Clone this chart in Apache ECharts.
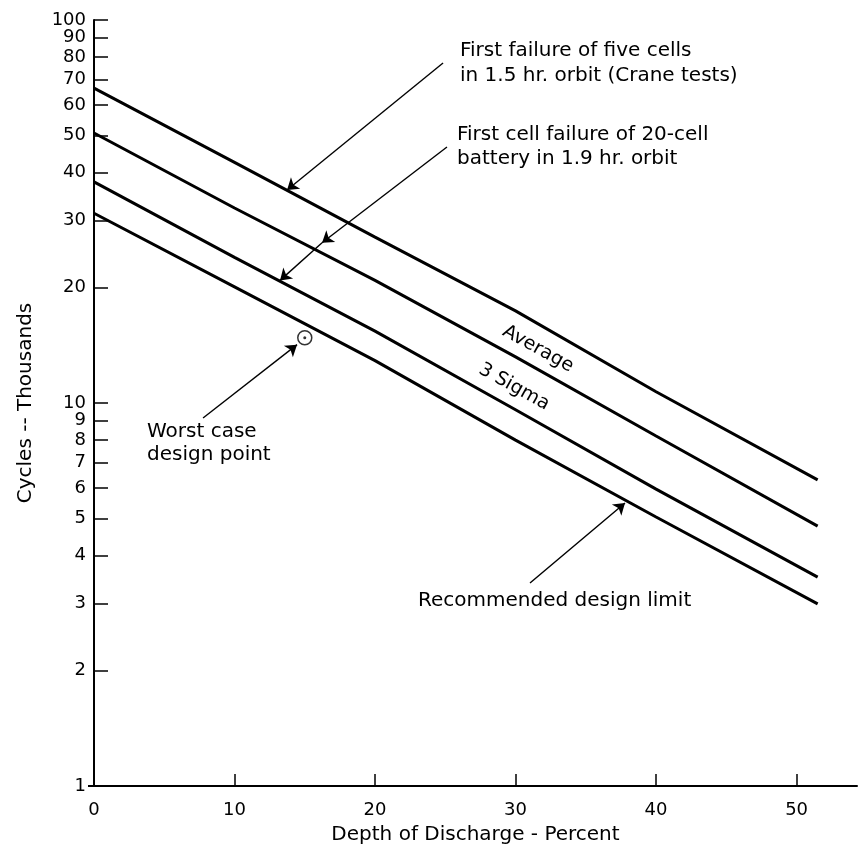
<!DOCTYPE html>
<html>
<head>
<meta charset="utf-8">
<script src="https://cdn.jsdelivr.net/npm/echarts@6/dist/echarts.min.js"></script>
<style>html,body{margin:0;padding:0;background:#fff}#c{width:859px;height:850px}</style>
</head>
<body>
<div id="c"></div>
<script>
// ---- data ----
const depthPercent = [0, 10, 20, 30, 40, 51.5];
const craneFirstFiveFail = [66.4, 42.5, 27.1, 17.4, 10.7, 6.3];
const averageCycles = [50.7, 32.3, 20.9, 13.2, 8.2, 4.77];
const threeSigmaCycles = [37.8, 24.0, 15.4, 9.6, 5.96, 3.51];
const designLimitCycles = [31.3, 20.1, 12.9, 8.0, 5.04, 2.99];
const worstCasePoint = [15, 14.8];
const xTicks = [0, 10, 20, 30, 40, 50];
const yTicks = [1, 2, 3, 4, 5, 6, 7, 8, 9, 10, 20, 30, 40, 50, 60, 70, 80, 90];
const yTopTick = [100];
const yOuterTick = [1];
// annotation arrows [from, to] in data units
const arrowCrane = [[24.84, 77.2], [13.74, 36.0]];
const arrowFirstCellA = [[25.12, 46.6], [16.23, 26.2]];
const arrowFirstCellB = [[16.23, 26.2], [13.24, 20.9]];
const arrowWorstCase = [[7.76, 9.14], [14.45, 14.2]];
const arrowDesignLimit = [[31.03, 3.39], [37.79, 5.48]];

const FONT = 'DejaVu Sans';
function pairs(xs, ys) { return xs.map((x, i) => [x, ys[i]]); }
function arrow(a) { return [{ coord: a[0] }, { coord: a[1] }]; }

const lineStyle = { color: '#000', width: 3 };
const yLabelStyle = { color: '#000', fontFamily: FONT, fontSize: 18, margin: 8 };
const yTickStyle = { inside: true, length: 14, lineStyle: { color: '#000', width: 1.5 } };
const chart = echarts.init(document.getElementById('c'), null, { renderer: 'canvas' });
chart.setOption({
  animation: false,
  backgroundColor: '#fff',
  grid: { left: 94, top: 20, right: 2, bottom: 64 },
  xAxis: {
    type: 'value', min: 0, max: 54.3,
    name: 'Depth of Discharge - Percent', nameLocation: 'middle', nameGap: 39,
    nameTextStyle: { color: '#000', fontFamily: FONT, fontSize: 20 },
    axisLine: { lineStyle: { color: '#000', width: 2 } },
    axisTick: { inside: true, length: 12, customValues: xTicks, lineStyle: { color: '#000', width: 1.5 } },
    axisLabel: { customValues: xTicks, color: '#000', fontFamily: FONT, fontSize: 18, margin: 15 },
    splitLine: { show: false }
  },
  yAxis: [{
    type: 'log', logBase: 10, min: 1, max: 100, position: 'left',
    name: 'Cycles -- Thousands', nameLocation: 'middle', nameRotate: 90, nameGap: 58,
    nameTextStyle: { color: '#000', fontFamily: FONT, fontSize: 20 },
    axisLine: { lineStyle: { color: '#000', width: 2 } },
    axisTick: Object.assign({ customValues: yTicks }, yTickStyle),
    axisLabel: Object.assign({ customValues: yTicks }, yLabelStyle),
    splitLine: { show: false }, minorTick: { show: false }
  }, {
    type: 'log', logBase: 10, min: 1, max: 100, position: 'left', offset: 0,
    axisLine: { show: false },
    axisTick: Object.assign({ customValues: yTopTick }, yTickStyle),
    axisLabel: Object.assign({ customValues: yTopTick, showMaxLabel: true }, yLabelStyle),
    splitLine: { show: false }, minorTick: { show: false }
  }, {
    type: 'log', logBase: 10, min: 1, max: 100, position: 'left', offset: 0,
    axisLine: { show: false },
    axisTick: { inside: false, length: 6, customValues: yOuterTick, lineStyle: { color: '#000', width: 2 } },
    axisLabel: { show: false },
    splitLine: { show: false }, minorTick: { show: false }
  }],
  series: [
    { type: 'line', name: 'Crane', data: pairs(depthPercent, craneFirstFiveFail), symbol: 'none', lineStyle,
      markLine: {
        silent: true, symbol: ['none', 'arrow'], symbolSize: 11,
        lineStyle: { color: '#000', width: 1.4, type: 'solid' }, label: { show: false },
        data: [arrow(arrowCrane), arrow(arrowFirstCellA), arrow(arrowFirstCellB), arrow(arrowWorstCase), arrow(arrowDesignLimit)]
      } },
    { type: 'line', name: 'Average', data: pairs(depthPercent, averageCycles), symbol: 'none', lineStyle },
    { type: 'line', name: '3 Sigma', data: pairs(depthPercent, threeSigmaCycles), symbol: 'none', lineStyle },
    { type: 'line', name: 'Design limit', data: pairs(depthPercent, designLimitCycles), symbol: 'none', lineStyle },
    { type: 'scatter', data: [worstCasePoint], symbol: 'circle', symbolSize: 14, z: 5,
      itemStyle: { color: '#fff', borderColor: '#000', borderWidth: 1.5 } },
    { type: 'scatter', data: [worstCasePoint], symbol: 'circle', symbolSize: 3, z: 6, itemStyle: { color: '#000' } }
  ],
  graphic: [
    { type: 'text', x: 460, y: 38, style: { text: 'First failure of five cells\nin 1.5 hr. orbit (Crane tests)', font: '20px ' + FONT, fill: '#000', lineHeight: 25 } },
    { type: 'text', x: 457, y: 123, style: { text: 'First cell failure of 20-cell\nbattery in 1.9 hr. orbit', font: '20px ' + FONT, fill: '#000', lineHeight: 24 } },
    { type: 'text', x: 147, y: 420, style: { text: 'Worst case\ndesign point', font: '20px ' + FONT, fill: '#000', lineHeight: 23 } },
    { type: 'text', x: 418, y: 591, style: { text: 'Recommended design limit', font: '20px ' + FONT, fill: '#000' } },
    { type: 'text', x: 538, y: 349, rotation: -29 * Math.PI / 180, style: { text: 'Average', font: '19px ' + FONT, fill: '#000', align: 'center', verticalAlign: 'middle' } },
    { type: 'text', x: 514, y: 387, rotation: -29 * Math.PI / 180, style: { text: '3 Sigma', font: '19px ' + FONT, fill: '#000', align: 'center', verticalAlign: 'middle' } }
  ]
});
</script>
</body>
</html>
